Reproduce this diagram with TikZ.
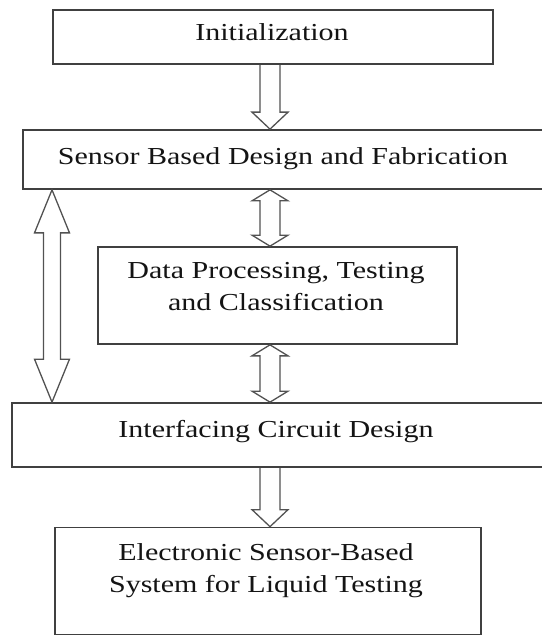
\documentclass[tikz,border=0pt]{standalone}
\usepackage{fontspec}
\setmainfont[FakeStretch=1.23]{Liberation Serif}
\usetikzlibrary{calc}
\definecolor{boxline}{gray}{0.25}
\definecolor{arrowline}{gray}{0.32}
\tikzset{
  blk shaft/.store in=\blkshaft,
  blk head/.store in=\blkhead,
  blk len/.store in=\blklen,
  blk shaft=10pt,
  blk head=18pt,
  blk len=17pt,
}
\tikzset{
  single block/.style={draw=arrowline, line width=1.3pt, line join=miter,
    to path={let \p1=(\tikztostart), \p2=(\tikztotarget) in
      (\x1-\blkshaft,\y1) -- (\x1-\blkshaft,\y2+\blklen) -- (\x1-\blkhead,\y2+\blklen)
      -- (\x2,\y2) -- (\x1+\blkhead,\y2+\blklen) -- (\x1+\blkshaft,\y2+\blklen)
      -- (\x1+\blkshaft,\y1)}},
  double block/.style={draw=arrowline, line width=1.3pt, line join=miter,
    to path={let \p1=(\tikztostart), \p2=(\tikztotarget) in
      (\x1,\y1) -- (\x1+\blkhead,\y1-\blklen) -- (\x1+\blkshaft,\y1-\blklen)
      -- (\x1+\blkshaft,\y2+\blklen) -- (\x1+\blkhead,\y2+\blklen) -- (\x2,\y2)
      -- (\x1-\blkhead,\y2+\blklen) -- (\x1-\blkshaft,\y2+\blklen)
      -- (\x1-\blkshaft,\y1-\blklen) -- (\x1-\blkhead,\y1-\blklen) -- cycle}},
}

\begin{document}
\begin{tikzpicture}[x=1pt,y=-1pt,
    box/.style={rectangle,draw=boxline,line width=1.7pt,inner sep=0pt},
    txt/.style={inner sep=0pt,align=center,text=black!92,
      font=\fontsize{24.4}{32.5}\selectfont}]
  \useasboundingbox (0,0) rectangle (541,636);

  % Boxes by coordinates
  \node[box, minimum width=440pt, minimum height=54pt] (init) at (273,37) {};
  \node[box, minimum width=537pt, minimum height=59pt] (sensor) at (291.5,159.5) {};
  \node[box, minimum width=359pt, minimum height=97pt] (data) at (277.5,295.5) {};
  \node[box, minimum width=548pt, minimum height=64pt] (iface) at (286,435) {};
  \node[box, minimum width=426pt, minimum height=107pt] (elec) at (268,581) {};

  % Box texts
  \node[txt, anchor=north] (init-txt) at (272,23) {Initialization};
  \node[txt, anchor=north] (sensor-txt) at (283,147) {Sensor Based Design and Fabrication};
  \node[txt, anchor=north] (data-txt) at (276,262) {Data Processing, Testing\\and Classification};
  \node[txt, anchor=north] (iface-txt) at (276,420) {Interfacing Circuit Design};
  \node[txt, anchor=north] (elec-txt) at (266,543) {Electronic Sensor-Based\\System for Liquid Testing};

  % Hollow block arrows
  \coordinate (axis) at (270,0);
  \coordinate (side) at (52,0);
  \path
    (init.south -| axis) edge[single block] (sensor.north -| axis)
    (sensor.south -| axis) edge[double block, blk len=11pt] (data.north -| axis)
    (data.south -| axis) edge[double block, blk len=11pt] (iface.north -| axis)
    (sensor.south -| side) edge[double block, blk shaft=8.5pt, blk head=17.5pt, blk len=43pt] (iface.north -| side)
    (iface.south -| axis) edge[single block] (elec.north -| axis);
\end{tikzpicture}
\end{document}
